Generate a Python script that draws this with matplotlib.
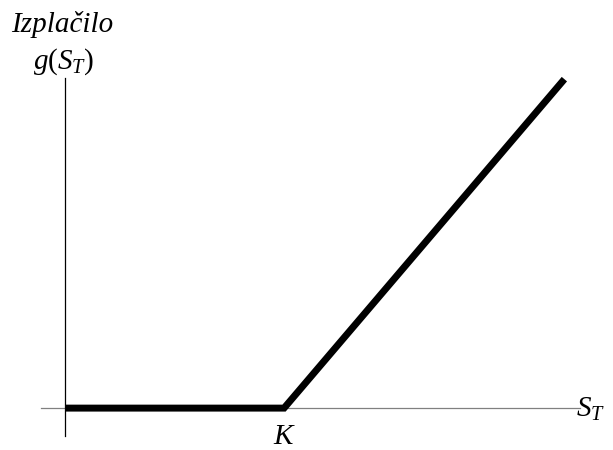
import numpy as np
import matplotlib.pyplot as plt

# payoff of a call option: g(S_T) = max(S_T - K, 0)
K = 100
S_pts = [0, 100, 228]
payoff = [0, 0, 128]

plt.rcParams['mathtext.fontset'] = 'custom'
plt.rcParams['mathtext.it'] = 'Liberation Serif:italic'
plt.rcParams['mathtext.rm'] = 'Liberation Serif'

fig = plt.figure(figsize=(6.13, 4.5), dpi=100)
ax = fig.add_axes([0, 0, 1, 1])
ax.set_xlim(-29.7, 250.2)
ax.set_ylim(-16.3, 158.8)
ax.axis('off')

# axes lines
ax.plot([-11, 235], [0, 0], color='#808080', lw=0.9)
ax.plot([0, 0], [-10.9, 128.4], color='black', lw=0.9)

# payoff
ax.plot(S_pts, payoff, color='black', lw=5, solid_capstyle='butt',
        solid_joinstyle='miter')

fs = 21
ax.text(0.101, 0.945, 'Izplačilo', transform=ax.transAxes, ha='center',
        va='center', fontsize=fs, family='Liberation Serif', style='italic')
ax.text(0.104, 0.862, r'$g(S_T)$', transform=ax.transAxes, ha='center',
        va='center', fontsize=fs)
ax.text(K, -10.8, r'$K$', ha='center', va='center', fontsize=fs)
ax.text(233.5, -0.5, r'$S_T$', ha='left', va='center', fontsize=fs)

plt.savefig('out.png', dpi=100)
